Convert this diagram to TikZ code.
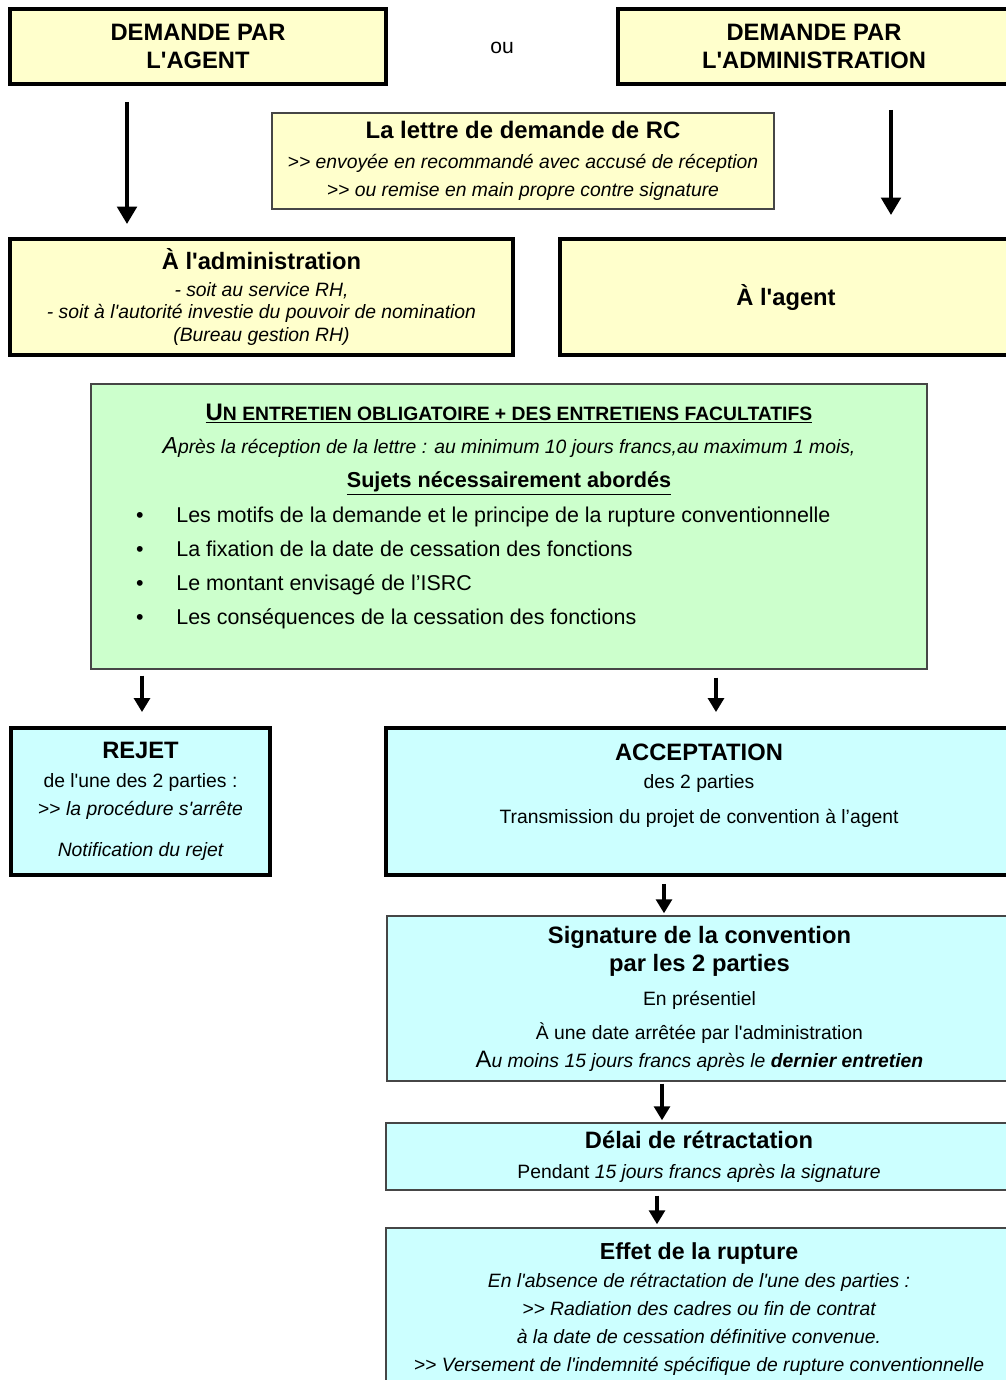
\documentclass[tikz,border=0pt]{standalone}
\usepackage{fontspec}
\setmainfont{Liberation Sans}
\usetikzlibrary{arrows.meta,positioning}
\definecolor{paleyellow}{RGB}{255,255,204}
\definecolor{palegreen}{RGB}{204,255,204}
\definecolor{palecyan}{RGB}{204,255,255}
\definecolor{framegray}{RGB}{70,70,70}
\newcommand{\fs}[2]{\fontsize{#1}{#2}\selectfont}
\newcommand{\q}{\textquotesingle}

\tikzset{
  heavybox/.style={draw=black, line width=2.2pt, align=center, inner sep=0pt},
  lightbox/.style={draw=framegray, line width=0.8pt, align=center, inner sep=0pt},
  flow/.style={line width=2pt, -{Triangle[width=9pt,length=8pt]}},
  bigflow/.style={line width=2.6pt, -{Triangle[width=11pt,length=10pt]}},
}

\begin{document}
\begin{tikzpicture}[x=0.02cm, y=-0.02cm]
  \useasboundingbox (0,0) rectangle (1006,1380);
  \clip (0,0) rectangle (1006,1380);

  % Demandes
  \node[heavybox, fill=paleyellow, minimum width=7.52cm, minimum height=1.5cm,
        font=\bfseries\fs{13.5}{16}] (demAgent) at (198,46.5) {DEMANDE PAR\\L\q AGENT};
  \node[font=\fs{12}{14}] (ou) at (502,48) {ou};
  \node[heavybox, fill=paleyellow, minimum width=7.84cm, minimum height=1.5cm,
        font=\bfseries\fs{13.5}{16}] (demAdmin) at (814,46.5) {DEMANDE PAR\\L\q ADMINISTRATION};

  % Lettre
  \node[lightbox, fill=paleyellow, minimum width=10.04cm, minimum height=1.92cm,
        font=\fs{11}{16}] (lettre) at (523,161)
        {{\bfseries\fs{13.6}{16}La lettre de demande de RC}\\[1pt]
         {\itshape >{}> envoyée en recommandé avec accusé de réception}\\
         {\itshape >{}> ou remise en main propre contre signature}};

  % Destinataires
  \node[heavybox, fill=paleyellow, minimum width=10.06cm, minimum height=2.32cm,
        font=\fs{11}{13}] (aAdmin) at (261.5,297)
        {{\bfseries\fs{13.5}{13}À l\q administration}\\[2.3pt]
         {\itshape - soit au service RH,}\\
         {\itshape - soit à l\q autorité investie du pouvoir de nomination}\\
         {\itshape (Bureau gestion RH)}};
  \node[heavybox, fill=paleyellow, minimum width=9.04cm, minimum height=2.32cm,
        font=\bfseries\fs{13.5}{16}] (aAgent) at (786,297) {À l\q agent};

  % Entretiens
  \node[lightbox, fill=palegreen, minimum width=16.72cm, minimum height=5.7cm] (entretien) at (509,526.5) {};
  \node[anchor=base, font=\bfseries\fs{11}{12}] (entTitre) at (509,420)
        {\underline{{\fs{13.6}{12}U}N ENTRETIEN OBLIGATOIRE + DES ENTRETIENS FACULTATIFS}};
  \node[anchor=base, font=\itshape\fs{11}{12}] (entDelai) at (509,453)
        {{\fs{13.2}{12}A}près la réception de la lettre : au minimum 10 jours francs,au maximum 1 mois,};
  \node[anchor=base, font=\bfseries\fs{12.3}{12}] (entSujets) at (509,487)
        {\underline{Sujets nécessairement abordés}};
  \foreach \sujet [count=\i] in {Les motifs de la demande et le principe de la rupture conventionnelle,
                                 La fixation de la date de cessation des fonctions,
                                 Le montant envisagé de l’ISRC,
                                 Les conséquences de la cessation des fonctions} {
    \node[anchor=base, font=\fs{12.2}{12}] (puce\i) at (140,488+34*\i) {\textbullet};
    \node[anchor=base west, inner sep=0pt, font=\fs{12.2}{12}] (sujet\i) at (176,488+34*\i) {\sujet};
  }

  % Issues
  \node[heavybox, fill=palecyan, minimum width=5.18cm, minimum height=2.94cm,
        font=\fs{11}{16.2}] (rejet) at (140.5,801.5)
        {{\bfseries\fs{13.5}{16.2}REJET}\\[0.2pt]
         de l\q une des 2 parties :\\
         >{}> {\itshape la procédure s\q arrête}\\[7pt]
         {\itshape Notification du rejet}};
  \node[heavybox, fill=palecyan, minimum width=12.52cm, minimum height=2.94cm,
        font=\fs{11}{16.4}] (accept) at (699,801.5)
        {{\bfseries\fs{13.5}{16.4}ACCEPTATION}\\
         des 2 parties\\[3.4pt]
         Transmission du projet de convention à l’agent\\[4pt]\mbox{}};

  % Suite de la procedure
  \node[lightbox, fill=palecyan, minimum width=12.5cm, minimum height=3.3cm,
        font=\fs{11}{15.6}] (signature) at (699.5,998.5)
        {{\bfseries\fs{13.5}{15.6}Signature de la convention}\\[0.3pt]
         {\bfseries\fs{13.5}{15.6}par les 2 parties}\\[4.2pt]
         En présentiel\\[3.7pt]
         À une date arrêtée par l\q administration\\
         {\fs{13.5}{15.6}A}{\itshape u moins 15 jours francs après le \textbf{dernier entretien}}};
  \node[lightbox, fill=palecyan, minimum width=12.52cm, minimum height=1.34cm,
        font=\fs{11}{17}] (delai) at (699,1156.5)
        {{\bfseries\fs{13.5}{17}Délai de rétractation}\\
         Pendant {\itshape 15 jours francs après la signature}};
  \node[lightbox, fill=palecyan, minimum width=12.52cm, minimum height=3.24cm,
        font=\itshape\fs{11}{16}] (effet) at (699,1309)
        {{\upshape\bfseries\fs{13.2}{16}Effet de la rupture}\\
         En l\q absence de rétractation de l\q une des parties :\\
         >{}> Radiation des cadres ou fin de contrat\\
         à la date de cessation définitive convenue.\\
         >{}> Versement de l\q indemnité spécifique de rupture conventionnelle};

  % Fleches
  \draw[bigflow, shorten <=0.32cm, shorten >=0.26cm] (demAgent.south -| 127,0) -- (aAdmin.north -| 127,0);
  \draw[bigflow, shorten <=0.48cm, shorten >=0.44cm] (demAdmin.south -| 891,0) -- (aAgent.north -| 891,0);
  \draw[flow, shorten <=0.12cm, shorten >=0.28cm] (entretien.south -| 142,0) -- (rejet.north -| 142,0);
  \draw[flow, shorten <=0.16cm, shorten >=0.28cm] (entretien.south -| 716,0) -- (accept.north -| 716,0);
  \draw[flow, shorten <=0.14cm, shorten >=0.04cm] (accept.south -| 664,0) -- (signature.north -| 664,0);
  \draw[flow, shorten <=0.04cm, shorten >=0.04cm] (signature.south -| 662,0) -- (delai.north -| 662,0);
  \draw[flow, shorten <=0.1cm, shorten >=0.06cm] (delai.south -| 657,0) -- (effet.north -| 657,0);
\end{tikzpicture}
\end{document}
